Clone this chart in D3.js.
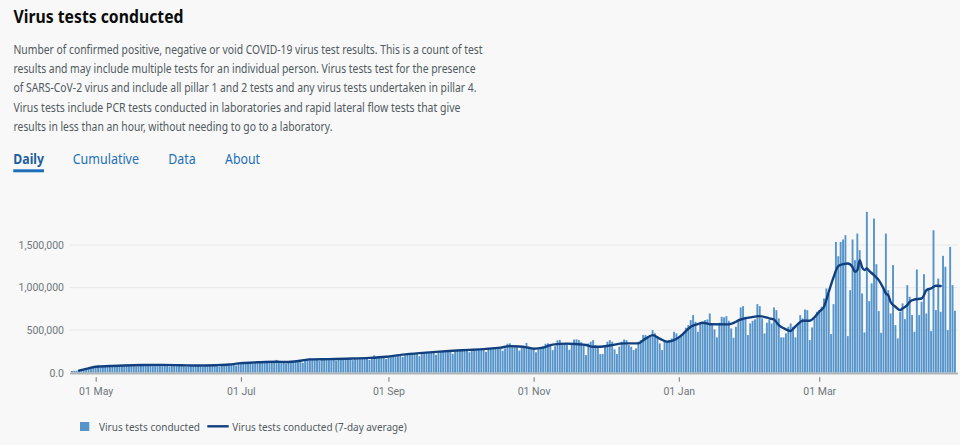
<!DOCTYPE html>
<html>
<head>
<meta charset="utf-8">
<script src="https://cdn.jsdelivr.net/npm/d3@7"></script>
<style>
  html, body { margin: 0; padding: 0; background: #f8f8f8; }
  svg { display: block; font-family: "Noto Sans", Roboto, sans-serif; }
</style>
</head>
<body>
<svg id="chart" width="960" height="445"></svg>
<script>
// ---------------- DATA ----------------
const titleText = "Virus tests conducted";
const descriptionLines = [
  "Number of confirmed positive, negative or void COVID-19 virus test results. This is a count of test",
  "results and may include multiple tests for an individual person. Virus tests test for the presence",
  "of SARS-CoV-2 virus and include all pillar 1 and 2 tests and any virus tests undertaken in pillar 4.",
  "Virus tests include PCR tests conducted in laboratories and rapid lateral flow tests that give",
  "results in less than an hour, without needing to go to a laboratory."
];
const tabLabels = ["Daily", "Cumulative", "Data", "About"];
const legendLabels = ["Virus tests conducted", "Virus tests conducted (7-day average)"];

// First day of the daily series
const startDate = "2020-04-21";

// Daily virus tests conducted (thousands), one value per day from startDate
const dailyTestsK = [
  20,22,23,28,29,30,37,43,52,72,
  80,85,78,68,80,86,84,
  82,88,85,70,85,90,88,
  90,92,88,75,88,95,92,
  94,96,92,78,90,96,98,
  95,97,92,74,88,94,95,
  92,90,88,72,84,88,90,
  86,85,84,70,82,86,88,
  88,90,88,72,86,92,96,
  98,100,98,84,102,
  112,118,122,120,125,104,120,
  124,130,128,126,132,112,128,
  132,150,136,130,128,108,124,
  134,138,140,138,145,116,140,
  155,168,160,158,162,140,155,
  162,166,165,162,164,142,158,
  166,170,168,166,168,148,162,
  172,176,174,172,176,150,170,
  205,185,182,180,185,160,190,
  200,205,208,210,212,185,205,
  218,222,225,226,228,195,222,
  235,240,238,242,245,210,235,
  255,250,252,258,255,222,248,
  262,265,268,270,268,240,258,
  275,272,280,282,280,245,270,
  290,292,295,300,298,258,285,
  340,345,320,315,318,260,290,
  300,350,305,290,285,240,275,
  300,310,340,345,330,265,310,
  380,385,350,345,340,270,330,
  390,392,385,360,340,
  207,344,364,383,325,305,219,
  219,305,364,383,364,274,219,
  305,364,391,383,325,305,266,
  286,364,383,442,442,430,442,
  500,462,430,344,266,364,352,
  383,403,481,462,423,430,462,
  528,559,618,677,599,481,579,
  599,618,626,696,579,509,415,
  587,657,650,665,610,520,411,
  540,599,767,782,657,442,579,
  610,626,806,782,
  638,462,587,618,579,767,735,638,415,415,462,540,579,540,415,571,677,638,743,735,383,532,638,716,
  735,775,872,990,931,454,806,
  1537,1369,1537,1565,1616,430,970,
  1565,1322,1635,1440,931,473,1890,
  841,1050,1811,1275,724,469,1009,
  1635,970,696,1264,559,403,716,
  814,630,1029,892,677,481,1213,
  677,833,1158,696,970,489,1674,
  735,1106,716,1373,1245,500,1479,
  1029,728
];

// 7-day average (thousands), read at these day offsets from startDate
const avgDay = [3,6,10,16,22,30,38,46,53,60,66,71,78,86,90,96,100,108,118,125,
  132,139,146,153,160,167,174,180,184,188,191,194,198,202,208,212,216,219,222,226,
  232,238,241,244,247,250,255,257,260,263,265,268,276,281,285,289,293,295,297,300,
  302,303,305,307,310,312,314,316,318,320,322,324,326,328,329,330,331,332,333,334,
  335,337,339,341,342,343,344,346,348,349,351,352,354,357,358,359,361,363,365];
const avgValueK = [25,45,70,78,85,90,92,88,84,88,96,112,122,129,125,140,156,160,166,174,
  188,212,230,245,258,268,280,295,312,308,298,282,295,330,342,336,325,305,305,320,
  345,345,400,442,400,364,415,462,540,571,587,570,568,625,650,665,638,625,560,509,
  489,515,571,610,610,650,716,775,950,1120,1252,1275,1283,1240,1185,1205,1322,1240,1205,1225,
  1197,1146,1088,990,931,912,830,775,735,755,794,833,860,872,912,970,990,1021,1018];

const yTickValues = [0, 500000, 1000000, 1500000];
const yTickLabels = ["0.0", "500,000", "1,000,000", "1,500,000"];
const xTickDates = ["2020-05-01", "2020-07-01", "2020-09-01", "2020-11-01", "2021-01-01", "2021-03-01"];

// ---------------- DRAW ----------------
const svg = d3.select("#chart");
const parse = d3.utcParse("%Y-%m-%d");
const t0 = parse(startDate);
const dayDate = i => d3.utcDay.offset(t0, i);

const daily = dailyTestsK.map((v, i) => ({ date: dayDate(i), value: v * 1000 }));
const avg = avgDay.map((d, i) => ({ date: dayDate(d), value: avgValueK[i] * 1000 }));

const plot = { left: 70.7, right: 956.1, top: 202.5, bottom: 372.7 };
const x = d3.scaleUtc()
  .domain([d3.utcHour.offset(t0, -12), d3.utcHour.offset(dayDate(daily.length - 1), 12)])
  .range([plot.left, plot.right]);
const y = d3.scaleLinear().domain([0, 2000000]).range([plot.bottom, plot.top]);

function fit(sel, w) { sel.attr("textLength", w).attr("lengthAdjust", "spacingAndGlyphs"); return sel; }

// Title
fit(svg.append("text").attr("x", 13.5).attr("y", 23)
  .attr("font-size", 18.5).attr("font-weight", 700).attr("fill", "#0b0c0c")
  .text(titleText), 170);

// Description
const descWidths = [469, 462, 463, 447, 319];
descriptionLines.forEach((line, i) => {
  fit(svg.append("text").attr("x", 13.5).attr("y", 53.5 + i * 19.4)
    .attr("font-size", 12).attr("fill", "#505a5f").text(line), descWidths[i]);
});

// Tabs
const tabX = [13.3, 72.7, 168.3, 225];
const tabW = [30.7, 66.3, 27.4, 35];
tabLabels.forEach((t, i) => {
  fit(svg.append("text").attr("x", tabX[i]).attr("y", 164)
    .attr("font-size", 14).attr("font-weight", i === 0 ? 700 : 400)
    .attr("fill", i === 0 ? "#1d5f9e" : "#1d70b8").text(t), tabW[i]);
});
svg.append("rect").attr("x", 13.3).attr("y", 169.3).attr("width", 30.7).attr("height", 3).attr("fill", "#1d70b8");

// Gridlines
svg.append("g").selectAll("line").data(yTickValues.filter(v => v > 0)).join("line")
  .attr("x1", 70).attr("x2", 958)
  .attr("y1", d => y(d)).attr("y2", d => y(d))
  .attr("stroke", "#e9e9e9").attr("stroke-width", 1);

// Y axis labels
const yAxis = d3.axisLeft(y).tickValues(yTickValues)
  .tickFormat((d, i) => yTickLabels[i]).tickSize(0).tickPadding(6);
const gy = svg.append("g").attr("transform", "translate(70,0)").call(yAxis);
gy.select(".domain").remove();
gy.selectAll("text").attr("font-family", "Roboto, 'Noto Sans', sans-serif")
  .attr("font-size", 10.5).attr("fill", "#6f777b");

// Bars
const step = x(dayDate(1)) - x(dayDate(0));
const bw = step * 0.8;
svg.append("g").selectAll("rect").data(daily).join("rect")
  .attr("x", d => x(d.date) - bw / 2)
  .attr("width", bw)
  .attr("y", d => y(d.value))
  .attr("height", d => y(0) - y(d.value))
  .attr("fill", "#5694ca");

// Axis baseline
svg.append("line").attr("x1", 70).attr("x2", 958)
  .attr("y1", y(0) + 0.9).attr("y2", y(0) + 0.9)
  .attr("stroke", "#b1b4b6").attr("stroke-width", 2);

// X axis
const xAxis = d3.axisBottom(x).tickValues(xTickDates.map(parse))
  .tickFormat(d3.utcFormat("%d %b")).tickSize(4.5).tickPadding(6);
const gx = svg.append("g").attr("transform", `translate(0,${y(0) + 4.5})`).call(xAxis);
gx.select(".domain").remove();
gx.selectAll("line").attr("stroke", "#6f777b");
gx.selectAll("text").attr("font-family", "Roboto, 'Noto Sans', sans-serif")
  .attr("font-size", 10.5).attr("fill", "#6f777b");

// 7-day average line
const line = d3.line().x(d => x(d.date)).y(d => y(d.value)).curve(d3.curveMonotoneX);
svg.append("path").datum(avg).attr("d", line)
  .attr("fill", "none").attr("stroke", "#12407f").attr("stroke-width", 2.4)
  .attr("stroke-linejoin", "round").attr("stroke-linecap", "round");

// Legend
const lg = svg.append("g");
lg.append("rect").attr("x", 80).attr("y", 422).attr("width", 9.3).attr("height", 9).attr("fill", "#5694ca");
fit(lg.append("text").attr("x", 99).attr("y", 430.5).attr("font-size", 11.5).attr("fill", "#505a5f").text(legendLabels[0]), 101);
lg.append("line").attr("x1", 207.3).attr("x2", 228.7).attr("y1", 426.3).attr("y2", 426.3)
  .attr("stroke", "#12407f").attr("stroke-width", 2.4);
fit(lg.append("text").attr("x", 232.3).attr("y", 430.5).attr("font-size", 11.5).attr("fill", "#505a5f").text(legendLabels[1]), 174.4);

if (dailyTestsK.length !== 372 || avgDay.length !== avgValueK.length) console.warn("data length mismatch", dailyTestsK.length);
</script>
</body>
</html>
